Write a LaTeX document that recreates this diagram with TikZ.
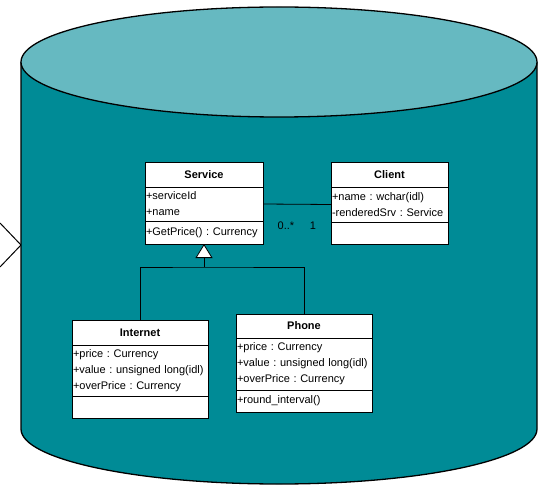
\documentclass[tikz,border=0pt]{standalone}
\usepackage{fontspec}
\setmainfont{Liberation Sans}
\usetikzlibrary{positioning,arrows.meta}
\frenchspacing

\definecolor{dbside}{RGB}{0,139,150}
\definecolor{dbtop}{RGB}{102,185,193}

\def\umlfont{\fontsize{11}{16}\selectfont}
\def\servicewidth{116pt}
\def\clientwidth{115pt}
\def\productwidth{134pt}

\tikzstyle{classname} = [rectangle,
line width=.8pt,
inner xsep=1pt,
inner ysep=0pt,
outer sep=0pt,
minimum height=25pt,
align=center,
font=\umlfont\bfseries,
draw=black,
fill=white]
\tikzstyle{classpart} = [rectangle,
line width=.8pt,
inner xsep=1pt,
inner ysep=0pt,
outer sep=0pt,
align=left,
font=\umlfont,
draw=black,
fill=white]

\begin{document}
\begin{tikzpicture}[x=1pt, y=-1pt]
    \useasboundingbox (0,0) rectangle (540,486);
    %%%%%%%%%%%%%%%%%%%%%%%%%%%%%%%%%%%%%%%%
    % Database cylinder
    %%%%%%%%%%%%%%%%%%%%%%%%%%%%%%%%%%%%%%%%
    \coordinate (dbinlet) at (21,245);
    \draw[line width=1pt] (dbinlet) ++(-21,-22) -- (dbinlet) -- ++(-21,22);
    \fill[dbside] (21,62) -- (21,429) arc[start angle=180, end angle=360, x radius=258pt, y radius=55pt] -- (537,62) -- cycle;
    \draw[line width=1.3pt] (21,62) -- (21,429) arc[start angle=180, end angle=360, x radius=258pt, y radius=55pt] -- (537,62);
    \draw[line width=1.3pt, fill=dbtop] (279,62) ellipse [x radius=258pt, y radius=55pt];
    %%%%%%%%%%%%%%%%%%%%%%%%%%%%%%%%%%%%%%%%
    % Classes
    %%%%%%%%%%%%%%%%%%%%%%%%%%%%%%%%%%%%%%%%
    \node (svc) [classname, text width=\servicewidth, anchor=north west] at (145,162) {Service};
    \node (svcattr) [classpart, text width=\servicewidth, minimum height=34pt, below=0pt of svc] {+serviceId\\+name};
    \node (svcops) [classpart, text width=\servicewidth, minimum height=23pt, below=0pt of svcattr] {+GetPrice() : Currency};
    \node (cli) [classname, text width=\clientwidth, anchor=north west] at (331,162) {Client};
    \node (cliattr) [classpart, text width=\clientwidth, minimum height=35pt, below=0pt of cli] {+name : wchar(idl)\\-renderedSrv : Service};
    \node (cliops) [classpart, text width=\clientwidth, minimum height=22pt, below=0pt of cliattr] {};
    \node (inet) [classname, text width=\productwidth, anchor=north west] at (72,320) {Internet};
    \node (inetattr) [classpart, text width=\productwidth, minimum height=51pt, below=0pt of inet] {+price : Currency\\+value : unsigned long(idl)\\+overPrice : Currency};
    \node (inetops) [classpart, text width=\productwidth, minimum height=22pt, below=0pt of inetattr] {};
    \node (phone) [classname, text width=\productwidth, minimum height=24pt, anchor=north west] at (236,314) {Phone};
    \node (phoneattr) [classpart, text width=\productwidth, minimum height=52pt, below=0pt of phone] {+price : Currency\\+value : unsigned long(idl)\\+overPrice : Currency};
    \node (phoneops) [classpart, text width=\productwidth, minimum height=22pt, below=0pt of phoneattr] {+round\_interval()};
    %%%%%%%%%%%%%%%%%%%%%%%%%%%%%%%%%%%%%%%%
    % Relations
    %%%%%%%%%%%%%%%%%%%%%%%%%%%%%%%%%%%%%%%%
    \draw[line width=.8pt] (svcattr.east) -- (cliattr.west);
    \node (many) [font=\umlfont] at (286,226) {0..*};
    \node (one) [font=\umlfont] at (313,226) {1};
    \coordinate (gen) at (204,267);
    \draw[line width=.8pt] (inet.north) |- (gen) -| (phone.north);
    \draw[line width=.8pt, -{Triangle[open, fill=white, length=14pt, width=17pt]}] (gen) -- (svcops.south);
\end{tikzpicture}
\end{document}
